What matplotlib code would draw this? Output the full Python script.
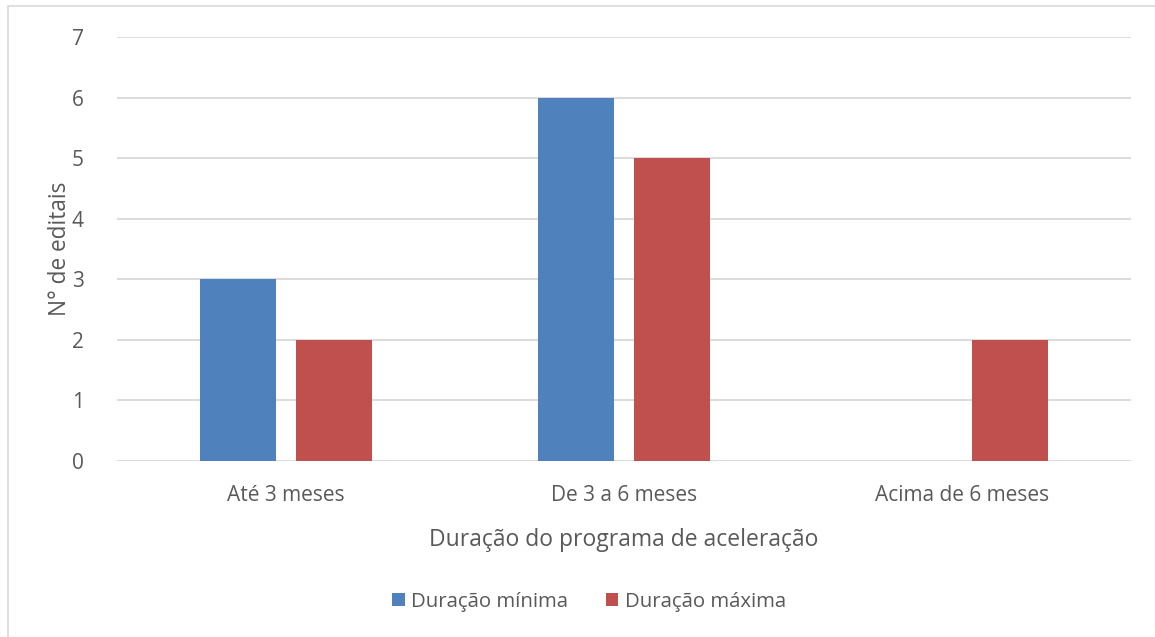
import matplotlib
matplotlib.use("Agg")
import matplotlib.pyplot as plt
from matplotlib.patches import Rectangle
import numpy as np

categories = ["Até 3 meses", "De 3 a 6 meses", "Acima de 6 meses"]
duracao_minima = [3, 6, 0]
duracao_maxima = [2, 5, 2]
series_names = ["Duração mínima", "Duração máxima"]
y_ticks = [0, 1, 2, 3, 4, 5, 6, 7]

BLUE = "#4F81BD"
RED = "#C0504D"
GRID = "#D9D9D9"
TEXT = "#595959"
FONT = ["Open Sans", "DejaVu Sans"]

W, H = 1155, 637
fig = plt.figure(figsize=(W / 100, H / 100), dpi=100)
fig.patch.set_facecolor("white")

# chart frame
fig.patches.append(Rectangle((8 / W, -0.1), 1.2, 1 - 6 / H + 0.1,
                             transform=fig.transFigure, fill=False,
                             edgecolor="#D9D9D9", linewidth=1.2))

# caption above the chart (mostly outside the visible area)
fig.text(577 / W, 1 + 7.5 / H, "Figura 5 – Duração do programa de aceleração",
         ha="center", va="baseline", fontsize=24.5,
         family=["Liberation Serif"], color="black")

ax = fig.add_axes([117 / W, 1 - 461 / H, (1131 - 117) / W, (461 - 37) / H])
x = np.arange(len(categories))
bw = 76 / 338
off = 48 / 338
ax.bar(x - off, duracao_minima, bw, color=BLUE, label=series_names[0], zorder=3)
ax.bar(x + off, duracao_maxima, bw, color=RED, label=series_names[1], zorder=3)

ax.set_xlim(-0.5, len(categories) - 0.5)
ax.set_ylim(0, 7)
ax.set_yticks(y_ticks)
ax.set_xticks(x)
ax.set_xticklabels(categories)
for s in ax.spines.values():
    s.set_visible(False)
ax.grid(axis="y", color=GRID, linewidth=1.3, zorder=0)
ax.tick_params(axis="both", length=0, labelsize=15, labelcolor=TEXT)
ax.tick_params(axis="y", pad=24)
ax.tick_params(axis="x", pad=17)
for lab in ax.get_xticklabels() + ax.get_yticklabels():
    lab.set_family(FONT)

ax.set_xlabel("Duração do programa de aceleração", fontsize=16.5, color=TEXT,
              family=FONT, labelpad=16)
ax.set_ylabel("N° de editais", fontsize=16.3, color=TEXT, family=FONT, labelpad=0)

leg = fig.legend(loc="center", bbox_to_anchor=(589 / W, 1 - 602 / H), ncol=2,
                 frameon=False, prop={"family": FONT, "size": 14.7},
                 handlelength=0.62, handleheight=0.62, handletextpad=0.3,
                 columnspacing=1.85)
for t in leg.get_texts():
    t.set_color(TEXT)

fig.savefig("out.png", dpi=100)
